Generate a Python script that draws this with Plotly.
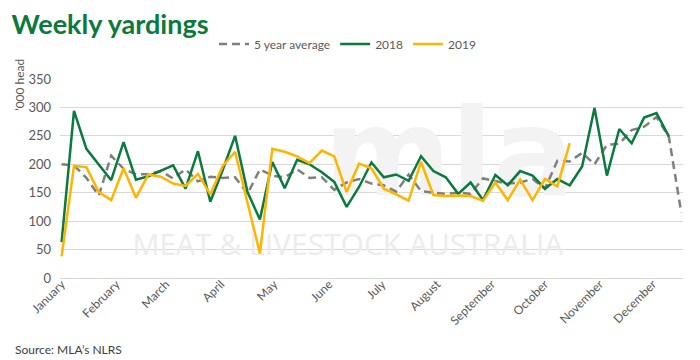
import plotly.graph_objects as go

# ---------------- data ----------------
weeks_avg = list(range(1, 52))
avg5 = [200, 198, 176, 145, 215, 192, 182, 183, 188, 175,
        191, 170, 178, 176, 177, 148, 191, 180, 177, 191,
        176, 177, 155, 168, 174, 166, 163, 152, 182, 153,
        150, 148, 150, 148, 175, 170, 166, 168, 174, 157,
        206, 205, 220, 200, 234, 236, 260, 266, 283, 248,
        115]

weeks_2018 = list(range(1, 51))
y2018 = [63, 294, 227, 200, 172, 239, 173, 179, 188, 198,
         157, 223, 134, 190, 250, 151, 103, 204, 158, 208,
         200, 186, 169, 125, 160, 203, 177, 182, 171, 214,
         188, 177, 148, 168, 137, 181, 163, 188, 180, 157,
         174, 163, 196, 299, 180, 262, 237, 282, 290, 249]

weeks_2019 = list(range(1, 43))
y2019 = [38, 197, 195, 151, 137, 193, 141, 182, 178, 166,
         162, 183, 147, 197, 222, 135, 43, 227, 222, 214,
         202, 224, 214, 151, 201, 193, 157, 147, 136, 204,
         146, 144, 145, 144, 136, 168, 137, 173, 137, 174,
         161, 237]

month_names = ["January", "February", "March", "April", "May", "June",
               "July", "August", "September", "October", "November", "December"]
month_start_day = [0, 31, 59, 90, 120, 151, 181, 212, 243, 273, 304, 334]
month_tick_weeks = [1 + d / 7 for d in month_start_day]

y_ticks = [0, 50, 100, 150, 200, 250, 300, 350]

# ---------------- style ----------------
GREEN = "#0b7a3e"
TITLE_GREEN = "#0a7a3c"
YELLOW = "#ffb400"
GREY = "#7f7f7f"
TXT = "#595959"
FONT = "Lato"

fig = go.Figure()

# faint watermark (drawn beneath the series)
fig.add_trace(go.Scatter(
    x=[32.3], y=[92], mode="text", text=["mla"],
    textposition="top center",
    textfont=dict(family="DejaVu Sans", size=122, color="#f3f3f3", weight="bold"),
    showlegend=False, hoverinfo="skip"))
fig.add_trace(go.Scatter(
    x=[24.1], y=[53], mode="text", text=["MEAT & LIVESTOCK AUSTRALIA"],
    textposition="middle center",
    textfont=dict(family="Open Sans", size=30, color="#ececec"),
    showlegend=False, hoverinfo="skip"))

fig.add_trace(go.Scatter(
    x=weeks_avg, y=avg5, mode="lines", name="5 year average",
    line=dict(color=GREY, width=2.5, dash="8px,5px")))
fig.add_trace(go.Scatter(
    x=weeks_2018, y=y2018, mode="lines", name="2018",
    line=dict(color=GREEN, width=2.5)))
fig.add_trace(go.Scatter(
    x=weeks_2019, y=y2019, mode="lines", name="2019",
    line=dict(color=YELLOW, width=2.5)))

fig.update_layout(
    width=700, height=360,
    margin=dict(l=52, r=25, t=66, b=90),
    paper_bgcolor="white", plot_bgcolor="white",
    font=dict(family=FONT, size=12, color=TXT),
    title=dict(text="<b>Weekly yardings</b>", font=dict(family=FONT, size=27, color=TITLE_GREEN),
               xref="container", x=0.005, xanchor="left",
               yref="container", y=0.953, yanchor="middle"),
    legend=dict(orientation="h", xref="container", x=0.485, xanchor="center",
                yref="container", y=0.9, yanchor="middle",
                font=dict(size=12, color=TXT), bgcolor="rgba(0,0,0,0)"),
    showlegend=True,
)

fig.update_xaxes(
    range=[0.87, 51.14], tickmode="array", tickvals=month_tick_weeks, ticktext=month_names,
    tickangle=-45, showgrid=False, zeroline=False, showline=False, ticks="",
    ticklabelstandoff=-4,
    tickfont=dict(size=12, color=TXT))
fig.update_yaxes(
    range=[0, 350], tickmode="array", tickvals=y_ticks,
    showgrid=True, gridcolor="#d9d9d9", gridwidth=1,
    zeroline=True, zerolinecolor="#d9d9d9", zerolinewidth=1,
    showline=False, ticks="", ticklabelstandoff=8,
    tickfont=dict(size=13, color=TXT))

fig.add_annotation(text="\u2019000 head", textangle=-90, xref="paper", yref="paper",
                   x=-0.066, y=1.11, xanchor="center", yanchor="top", showarrow=False,
                   font=dict(size=12, color=TXT))
fig.add_annotation(text="Source: MLA\u2019s NLRS", xref="paper", yref="paper",
                   x=-0.0754, y=-0.36, xanchor="left", yanchor="middle", showarrow=False,
                   font=dict(size=12, color="#404040"))

fig.write_html("out.html")
